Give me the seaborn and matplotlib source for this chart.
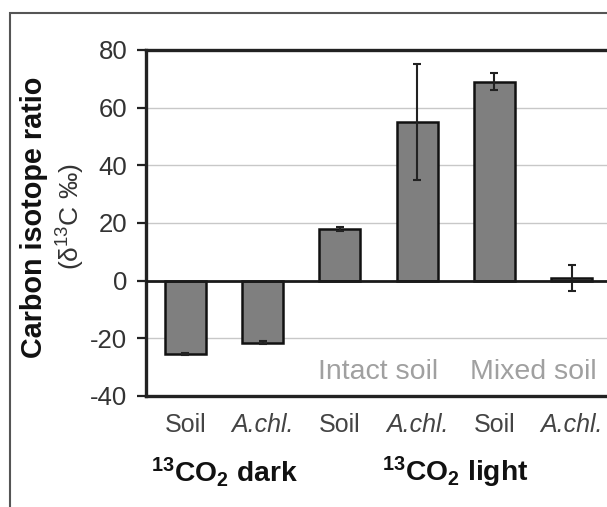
import matplotlib
matplotlib.use("Agg")
import matplotlib.pyplot as plt
import matplotlib.transforms as mtransforms
from matplotlib.patches import Rectangle
import seaborn as sns
import pandas as pd

# Mean carbon isotope ratio per treatment and its error
conditions = ["dark_soil", "dark_achl", "intact_soil", "intact_achl", "mixed_soil", "mixed_achl"]
tick_labels = ["Soil", "A.chl.", "Soil", "A.chl.", "Soil", "A.chl."]
delta13c = [-25.5, -21.5, 18.0, 55.0, 69.0, 1.0]
delta13c_err = [0.3, 0.5, 0.7, 20.0, 3.0, 4.5]
group_labels = ["$^{13}$CO$_2$ dark", "$^{13}$CO$_2$ light"]
subgroup_labels = ["Intact soil", "Mixed soil"]

sns.set_theme(style="white")
plt.rcParams["font.family"] = ["Liberation Sans", "DejaVu Sans"]
plt.rcParams["mathtext.default"] = "regular"
plt.rcParams["axes.unicode_minus"] = False

df = pd.DataFrame({"condition": conditions, "delta": delta13c})

fig = plt.figure(figsize=(6.07, 5.07), dpi=100)
ax = fig.add_axes([0.2405, 0.219, 0.7661, 0.6824])

sns.barplot(data=df, x="condition", y="delta", order=conditions, color="#7f7f7f",
            saturation=1, width=0.53, edgecolor="#111111", linewidth=1.8,
            errorbar=None, ax=ax, zorder=3)
ax.errorbar(range(len(conditions)), delta13c, yerr=delta13c_err, fmt="none",
            ecolor="#222222", elinewidth=1.5, capsize=3, capthick=1.5, zorder=4)

ax.set_xlim(-0.51, 5.51)
ax.set_ylim(-40, 80)
ax.set_yticks(range(-40, 81, 20))
ax.set_xlabel("")
ax.set_ylabel("")

# horizontal gridlines and the zero baseline
for yv in (-20, 20, 40, 60):
    ax.axhline(yv, color="#c8c8c8", lw=1.0, zorder=1)
ax.axhline(0, color="#1a1a1a", lw=2.0, zorder=5)

for side in ("left", "top", "bottom"):
    ax.spines[side].set_color("#222222")
    ax.spines[side].set_linewidth(2.4)
ax.spines["right"].set_visible(False)

ax.tick_params(axis="y", which="major", left=True, length=6.5, width=1.6,
               color="#222222", labelsize=18.5, labelcolor="#333333", pad=7)
ax.tick_params(axis="x", length=0, pad=12, labelsize=18, labelcolor="#444444")
ax.set_xticks(range(len(conditions)))
ax.set_xticklabels(tick_labels)
for lbl in ax.get_xticklabels():
    if lbl.get_text().startswith("A."):
        lbl.set_fontstyle("italic")

# treatment labels inside the plot
for xpos, txt in zip((2.5, 4.5), subgroup_labels):
    ax.text(xpos, -31.7, txt, ha="center", va="center", fontsize=20.5,
            color="#a0a0a0", zorder=6)

# group labels below the tick labels
blend = mtransforms.blended_transform_factory(ax.transData, fig.transFigure)
for xpos, txt in zip((0.5, 3.5), group_labels):
    ax.text(xpos, 0.069, txt, transform=blend, ha="center", va="center",
            fontsize=20.3, fontweight="bold", color="#111111")

# two-line y-axis label
fig.text(0.056, 0.572, "Carbon isotope ratio", rotation=90, ha="center",
         va="center", fontsize=20.7, fontweight="bold", color="#111111")
fig.text(0.116, 0.572, "(δ$^{13}$C ‰)", rotation=90, ha="center",
         va="center", fontsize=19, color="#333333")

# outer frame around the panel
fig.patches.append(Rectangle((0.0165, -0.1), 1.2, 0.1 + 0.974, transform=fig.transFigure,
                             fill=False, edgecolor="#555555", linewidth=1.5))

fig.savefig("out.png", dpi=100)
